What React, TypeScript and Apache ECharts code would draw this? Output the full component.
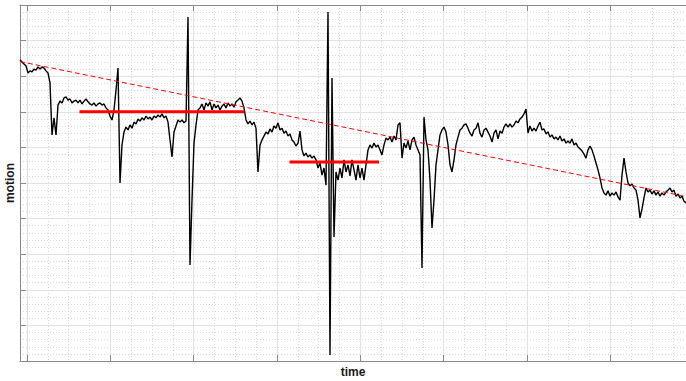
import React, { useEffect, useRef } from "react";
import * as echarts from "echarts";

// time axis (samples)
const timeStart = 916;
const timeEnd = 8908;
const sampleStep = 24;

// motion signal, one value per sample step
const motion = [
  8.46, 8.40, 8.34, 8.29, 8.09, 8.15, 8.12, 8.20, 8.17, 8.26,
  8.20, 8.26, 8.23, 8.15, 8.09, 7.81, 6.35, 6.83, 6.35, 7.19,
  7.30, 7.25, 7.39, 7.42, 7.33, 7.36, 7.25, 7.30, 7.33, 7.25,
  7.33, 7.22, 7.30, 7.36, 7.28, 7.22, 7.19, 7.25, 7.16, 7.22,
  7.25, 7.19, 7.22, 7.11, 7.05, 6.88, 6.77, 7.05, 7.61, 8.23,
  5.00, 6.07, 6.43, 6.57, 6.49, 6.63, 6.54, 6.71, 6.66, 6.80,
  6.74, 6.83, 6.77, 6.88, 6.80, 6.85, 6.77, 6.88, 6.83, 6.91,
  6.85, 6.94, 6.83, 6.88, 6.71, 6.21, 5.73, 6.43, 6.60, 6.77,
  6.71, 6.77, 6.69, 6.74, 9.66, 2.70, 4.52, 6.12, 6.63, 7.05,
  7.11, 7.22, 7.05, 7.25, 7.16, 7.28, 7.05, 7.22, 7.11, 7.19,
  7.05, 7.16, 7.22, 7.11, 7.25, 7.16, 7.22, 7.13, 7.28, 7.33,
  7.39, 7.30, 7.11, 6.77, 6.66, 6.74, 6.63, 6.71, 6.54, 5.31,
  6.07, 6.21, 6.32, 6.43, 6.38, 6.52, 6.43, 6.60, 6.54, 6.69,
  6.49, 6.54, 6.40, 6.46, 6.32, 6.38, 6.21, 6.15, 6.04, 6.12,
  6.46, 5.93, 5.76, 5.84, 5.73, 5.79, 5.70, 5.76, 5.65, 5.42,
  5.56, 5.22, 5.42, 4.94, 9.80, 0.17, 7.95, 3.48, 5.31, 5.08,
  5.42, 5.14, 5.65, 5.31, 5.51, 5.20, 5.65, 5.37, 5.08, 5.51,
  5.14, 5.42, 5.08, 5.51, 5.93, 6.07, 5.98, 6.12, 6.01, 6.07,
  5.93, 5.79, 6.07, 6.26, 6.21, 6.29, 6.15, 6.32, 6.21, 6.63,
  6.69, 5.70, 6.12, 5.98, 6.18, 5.93, 6.21, 6.29, 6.07, 5.93,
  5.79, 2.61, 6.85, 6.21, 5.93, 5.08, 3.74, 4.52, 5.51, 5.93,
  6.35, 6.49, 6.57, 6.43, 6.07, 5.51, 5.31, 5.65, 6.07, 6.29,
  6.49, 6.54, 6.63, 6.66, 6.54, 6.40, 6.32, 6.49, 6.54, 6.69,
  6.40, 6.29, 6.49, 6.54, 6.43, 6.32, 6.15, 6.40, 6.49, 6.24,
  6.46, 6.40, 6.57, 6.66, 6.57, 6.66, 6.57, 6.63, 6.74, 6.69,
  6.80, 6.85, 6.94, 7.08, 6.40, 6.60, 6.46, 6.54, 6.46, 6.60,
  6.71, 6.49, 6.52, 6.38, 6.43, 6.29, 6.35, 6.24, 6.29, 6.21,
  6.32, 6.18, 6.24, 6.12, 6.18, 6.12, 6.24, 6.07, 6.12, 6.01,
  5.96, 5.90, 5.81, 5.70, 5.93, 6.04, 5.93, 5.76, 5.56, 5.37,
  5.14, 4.86, 4.72, 4.66, 4.78, 4.63, 4.72, 4.66, 4.75, 4.61,
  4.52, 5.22, 5.70, 5.31, 5.00, 4.92, 4.97, 4.86, 4.80, 4.52,
  4.02, 4.27, 4.58, 4.86, 4.75, 4.80, 4.69, 4.78, 4.66, 4.75,
  4.63, 4.72, 4.66, 4.75, 4.80, 4.86, 4.75, 4.80, 4.63, 4.69,
  4.58, 4.63, 4.49, 4.44,
];

// linear trend (dashed red)
const trendTimes = [916, 8908];
const trendValues = [8.41, 4.62];

// mean levels of two segments (thick red)
const segment1Times = [1630, 3610];
const segment1Value = 7.0;
const segment2Times = [4150, 5225];
const segment2Value = 5.59;

// y axis
const yMin = 0;
const yMax = 10;
const yInterval = 1;

const AXIS_COLOR = "#8a8a8a";
const FONT = "'Liberation Sans', Arial, Helvetica, sans-serif";

export default function App() {
  const ref = useRef<HTMLDivElement>(null);

  useEffect(() => {
    if (!ref.current) return;
    const chart = echarts.init(ref.current, null, { renderer: "svg" });

    const motionData = motion.map((v, i) => [timeStart + i * sampleStep, v]);
    const trendData = trendTimes.map((t, i) => [t, trendValues[i]]);
    const seg1Data = segment1Times.map((t) => [t, segment1Value]);
    const seg2Data = segment2Times.map((t) => [t, segment2Value]);

    const nameStyle = {
      fontFamily: FONT,
      fontWeight: "bold" as const,
      fontSize: 12,
      color: "#1a1a1a",
    };

    chart.setOption({
      animation: false,
      backgroundColor: "#ffffff",
      grid: {
        left: 20,
        right: 0,
        top: 5,
        bottom: 20,
        containLabel: false,
        outerBoundsMode: "none",
      },
      xAxis: [
        {
          type: "value",
          min: timeStart,
          max: timeEnd,
          splitNumber: 8,
          name: "time",
          nameLocation: "middle",
          nameGap: 5,
          nameTextStyle: { ...nameStyle, verticalAlign: "top" },
          axisLine: { show: true, onZero: false, lineStyle: { color: AXIS_COLOR, width: 1 } },
          axisTick: { show: true, inside: true, length: 6, lineStyle: { color: AXIS_COLOR } },
          axisLabel: { show: false },
          splitLine: { show: true, lineStyle: { color: "#e2e2e2", width: 1 } },
          minorTick: { show: false, splitNumber: 4 },
          minorSplitLine: { show: true, lineStyle: { color: "#dadada", width: 1, type: [1, 2] } },
        },
        {
          type: "value",
          position: "top",
          min: timeStart,
          max: timeEnd,
          splitNumber: 8,
          axisLine: { show: true, onZero: false, lineStyle: { color: AXIS_COLOR, width: 1 } },
          axisTick: { show: true, inside: true, length: 6, lineStyle: { color: AXIS_COLOR } },
          axisLabel: { show: false },
          splitLine: { show: false },
        },
      ],
      yAxis: {
        type: "value",
        min: yMin,
        max: yMax,
        interval: yInterval,
        name: "motion",
        nameLocation: "middle",
        nameRotate: 90,
        nameGap: 4,
        nameTextStyle: nameStyle,
        axisLine: { show: true, onZero: false, lineStyle: { color: AXIS_COLOR, width: 1 } },
        axisTick: { show: true, inside: true, length: 6, lineStyle: { color: AXIS_COLOR } },
        axisLabel: { show: false },
        splitLine: { show: true, lineStyle: { color: "#e2e2e2", width: 1 } },
        minorTick: { show: false, splitNumber: 5 },
        minorSplitLine: { show: true, lineStyle: { color: "#dadada", width: 1, type: [1, 2] } },
      },
      series: [
        {
          name: "motion",
          type: "line",
          data: motionData,
          showSymbol: false,
          symbol: "none",
          lineStyle: { color: "#000000", width: 1.4 },
          z: 2,
        },
        {
          name: "trend",
          type: "line",
          data: trendData,
          showSymbol: false,
          symbol: "none",
          lineStyle: { color: "#ff0000", width: 1, type: [5, 3] },
          z: 3,
        },
        {
          name: "level1",
          type: "line",
          data: seg1Data,
          showSymbol: false,
          symbol: "none",
          lineStyle: { color: "#ff0000", width: 3 },
          z: 4,
        },
        {
          name: "level2",
          type: "line",
          data: seg2Data,
          showSymbol: false,
          symbol: "none",
          lineStyle: { color: "#ff0000", width: 3 },
          z: 4,
        },
      ],
    });

    return () => chart.dispose();
  }, []);

  return (
    <div
      ref={ref}
      style={{ position: "fixed", left: 0, top: 0, width: 686, height: 381, background: "#fff" }}
    />
  );
}
